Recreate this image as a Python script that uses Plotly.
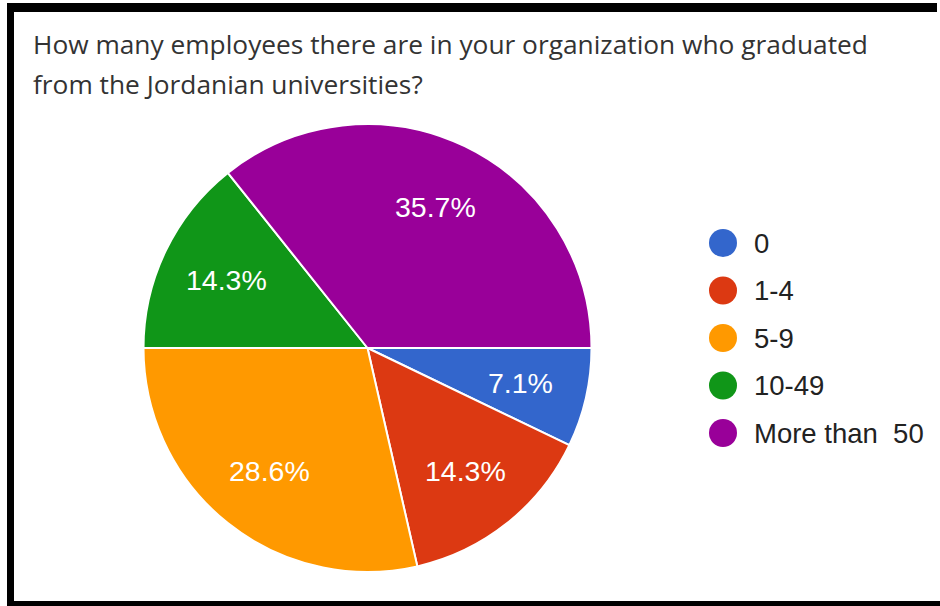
import math
import plotly.graph_objects as go

# Survey answers: number of responding organisations per employee band
categories = ["0", "1-4", "5-9", "10-49", "More than 50"]
counts = [1, 2, 4, 2, 5]
colors = ["#3366CC", "#DC3912", "#FF9900", "#109618", "#990099"]
title_lines = [
    "How many employees there are in your organization who graduated",
    "from the Jordanian universities?",
]

W, H = 940, 606
CX, CY, R = 367.5, 348.0, 224.0          # pie centre / radius in pixels
LEG_X, LEG_Y0, LEG_DY = 723, 243, 47.5   # legend layout

fig = go.Figure()

fig.add_trace(go.Pie(
    labels=categories,
    values=counts,
    marker=dict(colors=colors, line=dict(color="white", width=2)),
    sort=False,
    direction="clockwise",
    rotation=90,
    textinfo="none",
    hoverinfo="label+percent",
    showlegend=False,
    domain=dict(x=[(CX - R) / W, (CX + R) / W], y=[(H - CY - R) / H, (H - CY + R) / H]),
))

# Percentage labels placed along each slice's mid-angle
total = sum(counts)
annotations = []
acc = 0.0
for c in counts:
    frac = c / total
    mid = (acc + frac / 2) * 2 * math.pi   # clockwise from 3 o'clock
    acc += frac
    lx = CX + 0.70 * R * math.cos(mid)
    ly = CY + 0.70 * R * math.sin(mid)
    annotations.append(dict(
        x=lx, y=ly, xref="x", yref="y", text=f"{100 * frac:.1f}%",
        showarrow=False, xanchor="center", yanchor="middle",
        font=dict(family="Liberation Sans, Arial", size=28.5, color="white"),
    ))

# Legend: round swatches with labels
leg_rows = [LEG_Y0 + LEG_DY * i for i in range(len(categories))]
fig.add_trace(go.Scatter(
    x=[LEG_X] * len(categories), y=leg_rows, mode="markers",
    marker=dict(size=28, color=colors, line=dict(width=0)),
    hoverinfo="skip", showlegend=False,
))
for cat, yy in zip(categories, leg_rows):
    annotations.append(dict(
        x=752, y=yy, xref="x", yref="y", text=cat.replace(" 50", "\u00a0 50"),
        showarrow=False, xanchor="left", yanchor="middle",
        font=dict(family="Liberation Sans, Arial", size=27.5, color="#222222"),
    ))

# Question text, two lines
for i, line in enumerate(title_lines):
    annotations.append(dict(
        x=31, y=44 + 40 * i, xref="x", yref="y", text=line, showarrow=False,
        xanchor="left", yanchor="middle",
        font=dict(family="Open Sans", size=26.3, color="#333333"),
    ))

# Black frame (left, top, bottom edges)
shapes = [
    dict(type="rect", xref="x", yref="y", x0=7, x1=14, y0=3, y1=606,
         fillcolor="black", line=dict(width=0), layer="above"),
    dict(type="rect", xref="x", yref="y", x0=7, x1=937, y0=3, y1=12,
         fillcolor="black", line=dict(width=0), layer="above"),
    dict(type="rect", xref="x", yref="y", x0=7, x1=940, y0=601, y1=606,
         fillcolor="black", line=dict(width=0), layer="above"),
]

fig.update_layout(
    width=W, height=H,
    margin=dict(l=0, r=0, t=0, b=0),
    paper_bgcolor="white", plot_bgcolor="rgba(0,0,0,0)",
    xaxis=dict(range=[0, W], visible=False, fixedrange=True, domain=[0, 1]),
    yaxis=dict(range=[H, 0], visible=False, fixedrange=True, domain=[0, 1]),
    annotations=annotations,
    shapes=shapes,
    showlegend=False,
)

fig.write_html("out.html", config={"displayModeBar": False})
